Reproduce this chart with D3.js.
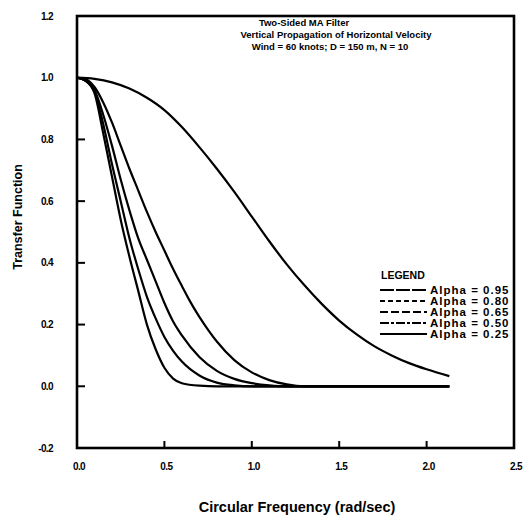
<!DOCTYPE html>
<html><head><meta charset="utf-8">
<script src="https://cdn.jsdelivr.net/npm/d3@7"></script>
<style>body{margin:0;background:#fff}svg{display:block}text{font-family:"Liberation Sans",Arial,sans-serif;font-weight:bold;fill:#000}</style>
</head><body><svg id="c" width="526" height="518"></svg>
<script>
const xTicks = [0, 0.5, 1.0, 1.5, 2.0, 2.5];
const yTicks = [-0.2, 0.0, 0.2, 0.4, 0.6, 0.8, 1.0, 1.2];
const titleLines = ["Two-Sided MA Filter", "Vertical Propagation of Horizontal Velocity", "Wind = 60 knots; D = 150 m, N = 10"];
const alphas = ["0.95", "0.80", "0.65", "0.50", "0.25"];
const xA = [0,0.05,0.1,0.15,0.2,0.25,0.3,0.35,0.4,0.45,0.5,0.55,0.6,0.7,0.8,1.0,1.5,2.13];
const vA = [1,0.99,0.95,0.82,0.68,0.54,0.42,0.31,0.2,0.12,0.06,0.025,0.01,0.002,0,0,0,0];
const xB = [0,0.05,0.1,0.15,0.2,0.25,0.3,0.35,0.4,0.45,0.5,0.55,0.6,0.7,0.8,0.9,1.0,1.5,2.13];
const vB = [1,0.99,0.955,0.85,0.72,0.6,0.48,0.38,0.29,0.22,0.16,0.115,0.08,0.035,0.012,0.003,0,0,0];
const xC = [0,0.05,0.1,0.15,0.2,0.25,0.3,0.35,0.4,0.45,0.5,0.55,0.6,0.7,0.8,0.9,1.0,1.1,1.2,1.6,2.13];
const vC = [1,0.99,0.96,0.88,0.78,0.67,0.57,0.48,0.41,0.34,0.27,0.21,0.165,0.095,0.05,0.024,0.01,0.003,0,0,0];
const xD = [0,0.05,0.1,0.15,0.2,0.25,0.3,0.35,0.4,0.45,0.5,0.55,0.6,0.65,0.7,0.75,0.8,0.9,1.0,1.1,1.2,1.3,1.8,2.13];
const vD = [1,0.995,0.97,0.92,0.855,0.78,0.705,0.635,0.565,0.5,0.44,0.38,0.325,0.272,0.225,0.183,0.145,0.085,0.045,0.02,0.006,0,0,0];
const xE = [0,0.1,0.2,0.3,0.4,0.5,0.6,0.7,0.8,0.9,1.0,1.1,1.2,1.3,1.4,1.5,1.6,1.7,1.8,1.9,2.0,2.13];
const vE = [1,0.996,0.985,0.965,0.935,0.895,0.84,0.775,0.705,0.63,0.55,0.47,0.395,0.328,0.267,0.213,0.168,0.13,0.1,0.075,0.055,0.033];
const series = [[xE,vE],[xD,vD],[xC,vC],[xB,vB],[xA,vA]];
const legendDash = ["14,2", "5,3", "8,3", "9,2,3,2", null];

const svg = d3.select("#c");
const L = 77, R = 514, T = 16, B = 448;
const x = d3.scaleLinear().domain([0, 2.5]).range([L, R]);
const y = d3.scaleLinear().domain([-0.2, 1.2]).range([B, T]);

// frame
svg.append("rect").attr("x", L).attr("y", T).attr("width", R - L).attr("height", B - T)
  .attr("fill", "none").attr("stroke", "#000").attr("stroke-width", 2.6);

// ticks
const yi = [0.0, 0.2, 0.4, 0.6, 0.8];
svg.selectAll(".yt").data(yi).enter().append("line")
  .attr("x1", L).attr("x2", L + 8).attr("y1", d => y(d)).attr("y2", d => y(d))
  .attr("stroke", "#000").attr("stroke-width", 2);
const xi = [0.5, 1.0, 1.5, 2.0];
svg.selectAll(".xt").data(xi).enter().append("line")
  .attr("y1", B).attr("y2", B - 7).attr("x1", d => x(d)).attr("x2", d => x(d))
  .attr("stroke", "#000").attr("stroke-width", 2);

// tick labels
svg.selectAll(".yl").data(yTicks).enter().append("text")
  .attr("x", 53).attr("y", d => y(d) + 3.5).attr("text-anchor", "end").attr("font-size", 10)
  .attr("letter-spacing", -0.6).text(d => d.toFixed(1));
svg.selectAll(".xl").data(xTicks).enter().append("text")
  .attr("x", d => x(d) + 2).attr("y", 470).attr("text-anchor", "middle").attr("font-size", 10)
  .attr("letter-spacing", -0.6).text(d => d.toFixed(1));

// axis titles
svg.append("text").attr("x", 297).attr("y", 512).attr("text-anchor", "middle").attr("font-size", 14.5)
  .text("Circular Frequency (rad/sec)");
svg.append("text").attr("transform", "translate(22,217) rotate(-90)").attr("text-anchor", "middle").attr("font-size", 12.5)
  .text("Transfer Function");

// title
const tx = [304, 336, 330];
titleLines.forEach((t, i) => {
  svg.append("text").attr("x", tx[i]).attr("y", 26 + i * 12).attr("text-anchor", "middle").attr("font-size", 9.5).text(t);
});

// curves
const line = d3.line().x(d => x(d[0])).y(d => y(d[1])).curve(d3.curveMonotoneX);
series.forEach(([xs, vs]) => {
  svg.append("path").datum(xs.map((v, i) => [v, vs[i]])).attr("d", line)
    .attr("fill", "none").attr("stroke", "#000").attr("stroke-width", 2.2);
});

// legend
svg.append("text").attr("x", 381).attr("y", 279).attr("font-size", 10.5).text("LEGEND");
alphas.forEach((a, i) => {
  const yy = 290 + i * 11;
  const ln = svg.append("line").attr("x1", 380).attr("x2", 427).attr("y1", yy).attr("y2", yy)
    .attr("stroke", "#000").attr("stroke-width", 2.2);
  if (legendDash[i]) ln.attr("stroke-dasharray", legendDash[i]);
  svg.append("text").attr("x", 430).attr("y", yy + 3.5).attr("font-size", 11.5).attr("letter-spacing", 1).text("Alpha = " + a);
});
</script></body></html>
